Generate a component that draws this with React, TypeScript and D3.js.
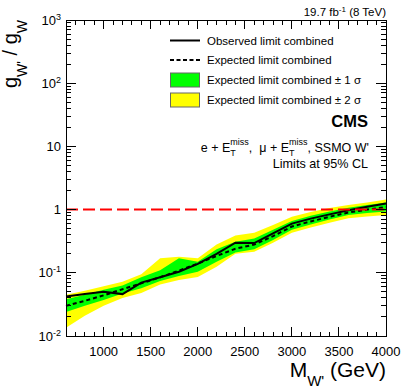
import React from "react";
import * as d3 from "d3";

const MASS = [600, 800, 1000, 1200, 1400, 1600, 1800, 2000, 2200, 2400, 2600, 2800, 3000, 3200, 3400, 3600, 3800, 4000];
const OBSERVED = [0.042, 0.046, 0.050, 0.046, 0.070, 0.085, 0.104, 0.138, 0.20, 0.30, 0.295, 0.42, 0.60, 0.72, 0.84, 0.98, 1.11, 1.25];
const EXPECTED = [0.030, 0.036, 0.044, 0.055, 0.068, 0.085, 0.108, 0.14, 0.185, 0.24, 0.28, 0.38, 0.54, 0.65, 0.77, 0.90, 1.00, 1.10];
const SIG1_LO = [0.024, 0.030, 0.037, 0.047, 0.057, 0.074, 0.089, 0.104, 0.15, 0.21, 0.235, 0.33, 0.48, 0.58, 0.70, 0.82, 0.88, 0.93];
const SIG1_HI = [0.038, 0.045, 0.054, 0.063, 0.085, 0.11, 0.17, 0.15, 0.235, 0.31, 0.35, 0.48, 0.66, 0.80, 0.93, 1.07, 1.18, 1.30];
const SIG2_LO = [0.0135, 0.021, 0.030, 0.040, 0.048, 0.065, 0.077, 0.086, 0.125, 0.20, 0.215, 0.30, 0.43, 0.52, 0.62, 0.73, 0.78, 0.82];
const SIG2_HI = [0.045, 0.052, 0.061, 0.072, 0.095, 0.17, 0.18, 0.17, 0.28, 0.39, 0.43, 0.57, 0.77, 0.92, 1.06, 1.18, 1.30, 1.45];

const X_TICKS = [1000, 1500, 2000, 2500, 3000, 3500, 4000];
const Y_TICK_VALUES = [1000, 100, 10, 1, 0.1, 0.01];
const Y_TICK_BASE = ["10", "10", "10", "1", "10", "10"];
const Y_TICK_EXP = ["3", "2", "", "", "-1", "-2"];

const LEGEND_LABELS = [
  "Observed limit combined",
  "Expected limit combined",
  "Expected limit combined \u00b1 1 \u03c3",
  "Expected limit combined \u00b1 2 \u03c3",
];

const W = 407, H = 392;
const L = 66, R = 386, T = 20, B = 336;
const FONT = "'Liberation Sans', Arial, Helvetica, sans-serif";

export default function App() {
  const x = d3.scaleLinear().domain([600, 4000]).range([L, R]);
  const y = d3.scaleLog().domain([0.01, 1000]).range([B, T]);
  const idx = MASS.map((_, i) => i);

  const band = (lo: number[], hi: number[]) =>
    d3.area<number>().x((i) => x(MASS[i])).y0((i) => y(lo[i])).y1((i) => y(hi[i]))(idx) || "";
  const line = (v: number[]) => d3.line<number>().x((i) => x(MASS[i])).y((i) => y(v[i]))(idx) || "";

  const xMinor = d3.range(600, 4001, 100);
  const yMinor: number[] = [];
  for (let e = -2; e < 3; e++) for (let k = 2; k <= 9; k++) yMinor.push(k * Math.pow(10, e));

  return (
    <svg width={W} height={H} style={{ position: "absolute", left: 0, top: 0, background: "#fff" }} fontFamily={FONT}>
      <rect x={0} y={0} width={W} height={H} fill="#fff" />
      <path d={band(SIG2_LO, SIG2_HI)} fill="#ffff00" />
      <path d={band(SIG1_LO, SIG1_HI)} fill="#00ff00" />
      <path d={line(EXPECTED)} fill="none" stroke="#000" strokeWidth={2} strokeDasharray="4,3" />
      <path d={line(OBSERVED)} fill="none" stroke="#000" strokeWidth={2} />
      <line x1={L} x2={R} y1={y(1)} y2={y(1)} stroke="#ff0000" strokeWidth={2} strokeDasharray="12,5" />

      {/* frame */}
      <rect x={L} y={T} width={R - L} height={B - T} fill="none" stroke="#000" strokeWidth={1} shapeRendering="crispEdges" />
      {/* x ticks */}
      {xMinor.map((m) => {
        const major = m % 500 === 0;
        const len = major ? 9 : 4.5;
        return (
          <g key={"xt" + m} stroke="#000" shapeRendering="crispEdges">
            <line x1={x(m)} x2={x(m)} y1={B} y2={B - len} />
            <line x1={x(m)} x2={x(m)} y1={T} y2={T + len} />
          </g>
        );
      })}
      {/* y ticks */}
      {Y_TICK_VALUES.map((v) => (
        <g key={"yt" + v} stroke="#000" shapeRendering="crispEdges">
          <line x1={L} x2={L + 10} y1={y(v)} y2={y(v)} />
          <line x1={R} x2={R - 10} y1={y(v)} y2={y(v)} />
        </g>
      ))}
      {yMinor.map((v) => (
        <g key={"ym" + v} stroke="#000" shapeRendering="crispEdges">
          <line x1={L} x2={L + 5} y1={y(v)} y2={y(v)} />
          <line x1={R} x2={R - 5} y1={y(v)} y2={y(v)} />
        </g>
      ))}
      {/* x tick labels */}
      {X_TICKS.map((m) => (
        <text key={"xl" + m} x={x(m)} y={356} textAnchor="middle" fontSize={13}>
          {m}
        </text>
      ))}
      {/* y tick labels */}
      {Y_TICK_VALUES.map((v, i) => (
        <text key={"yl" + v} x={61} y={y(v) + 4.5} textAnchor="end" fontSize={13}>
          {Y_TICK_BASE[i]}
          {Y_TICK_EXP[i] && (
            <tspan dy={-5} fontSize={9}>
              {Y_TICK_EXP[i]}
            </tspan>
          )}
        </text>
      ))}

      {/* axis titles */}
      <text x={386} y={377} textAnchor="end" fontSize={21}>
        M<tspan dy={9} fontSize={15}>W'</tspan>
        <tspan dy={-9}> (GeV)</tspan>
      </text>
      <text transform={`translate(17,20) rotate(-90)`} textAnchor="end" fontSize={20}>
        g<tspan dy={10} fontSize={14}>W'</tspan>
        <tspan dy={-10}> / g</tspan>
        <tspan dy={10} fontSize={14}>W</tspan>
      </text>

      {/* top label */}
      <text x={386} y={16} textAnchor="end" fontSize={11.5}>
        19.7 fb<tspan dy={-4} fontSize={8}>-1</tspan>
        <tspan dy={4}> (8 TeV)</tspan>
      </text>

      {/* legend */}
      <line x1={170} x2={200} y1={40.5} y2={40.5} stroke="#000" strokeWidth={2} />
      <line x1={170} x2={200} y1={60} y2={60} stroke="#000" strokeWidth={2} strokeDasharray="4,2.5" />
      <rect x={170.5} y={73} width={29} height={14} fill="#00ff00" stroke="#666" strokeWidth={1} />
      <rect x={170.5} y={93} width={29} height={14} fill="#ffff00" stroke="#666" strokeWidth={1} />
      {LEGEND_LABELS.map((t, i) => (
        <text key={"lg" + i} x={207} y={40.5 + i * 19.8 + 4} fontSize={11.5}>
          {t}
        </text>
      ))}

      {/* CMS labels */}
      <text x={368} y={127} textAnchor="end" fontSize={16.5} fontWeight="bold">
        CMS
      </text>
      <text x={369} y={151.5} textAnchor="end" fontSize={12.5} style={{ whiteSpace: "pre" }}>
        e + E<tspan dy={-7} fontSize={9}>miss</tspan>
        <tspan dx={-18.5} dy={11} fontSize={9}>T</tspan>
        <tspan dx={13} dy={-4}>{",  \u03bc + E"}</tspan>
        <tspan dy={-7} fontSize={9}>miss</tspan>
        <tspan dx={-18.5} dy={11} fontSize={9}>T</tspan>
        <tspan dx={13} dy={-4}>, SSMO W'</tspan>
      </text>
      <text x={368} y={168.3} textAnchor="end" fontSize={12.6}>
        Limits at 95% CL
      </text>
    </svg>
  );
}
